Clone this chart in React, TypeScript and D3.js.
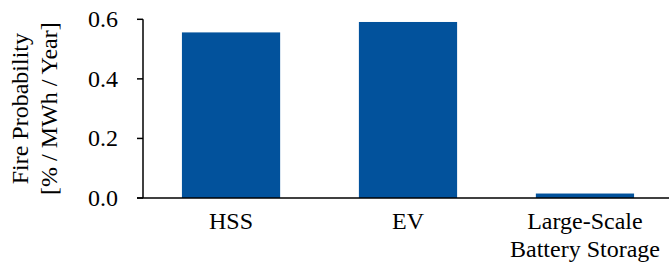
import React from "react";
import * as d3 from "d3";

const categories: string[][] = [["HSS"], ["EV"], ["Large-Scale", "Battery Storage"]];
const values: number[] = [0.556, 0.591, 0.015];
const yTicks: number[] = [0, 0.2, 0.4, 0.6];
const yTitle: string[] = ["Fire Probability", "[% / MWh / Year]"];

const W = 669;
const H = 263;
const M = { left: 143, top: 19, bottom: 65 };
const FONT = "Liberation Serif, Times New Roman, Times, DejaVu Serif, serif";
const COLOR = "#02529C";
const FS = 24;

export default function App() {
  const x = d3
    .scaleBand<number>()
    .domain(categories.map((_, i) => i))
    .range([M.left, 673])
    .paddingInner(0.445)
    .paddingOuter(0.22);
  const y = d3.scaleLinear().domain([0, 0.6]).range([H - M.bottom, M.top + 0.3]);
  const y0 = y(0);
  return (
    <svg
      width={W}
      height={H}
      style={{ position: "absolute", left: 0, top: 0, background: "#fff", fontFamily: FONT }}
    >
      {values.map((v, i) => (
        <rect
          key={i}
          x={x(i)}
          y={y(v)}
          width={x.bandwidth()}
          height={y0 - y(v)}
          fill={COLOR}
        />
      ))}
      <line x1={M.left} x2={M.left} y1={y(0.6)} y2={y0} stroke="#000" strokeWidth={1.5} />
      <line x1={M.left - 6} x2={W} y1={y0} y2={y0} stroke="#000" strokeWidth={1.5} />
      {yTicks.map((t) => (
        <g key={t}>
          <line x1={M.left - 6} x2={M.left} y1={y(t)} y2={y(t)} stroke="#000" strokeWidth={1.5} />
          <text x={118} y={y(t)} dy="0.33em" textAnchor="end" fontSize={FS} fill="#000" style={{ fontFamily: FONT }}>
            {d3.format(".1f")(t)}
          </text>
        </g>
      ))}
      {categories.map((lines, i) => (
        <text
          key={i}
          x={(x(i) as number) + x.bandwidth() / 2}
          y={229}
          textAnchor="middle"
          fontSize={FS}
          fill="#000"
          style={{ fontFamily: FONT }}
        >
          {lines.map((l, j) => (
            <tspan key={j} x={(x(i) as number) + x.bandwidth() / 2} dy={j === 0 ? 0 : 28}>
              {l}
            </tspan>
          ))}
        </text>
      ))}
      <text
        transform={`translate(28, ${(y(0.6) + y0) / 2}) rotate(-90)`}
        textAnchor="middle"
        fontSize={FS}
        fill="#000"
        style={{ fontFamily: FONT }}
      >
        {yTitle.map((l, j) => (
          <tspan key={j} x={0} dy={j === 0 ? 0 : 29}>
            {l}
          </tspan>
        ))}
      </text>
    </svg>
  );
}
